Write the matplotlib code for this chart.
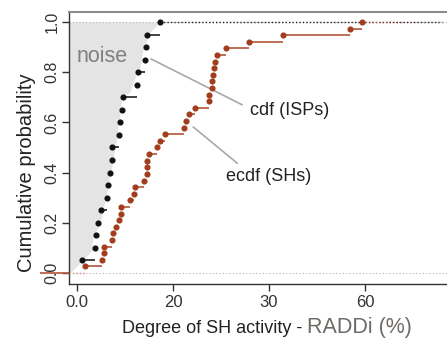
import numpy as np
import matplotlib
matplotlib.use("Agg")
import matplotlib.pyplot as plt

plt.rcParams['font.family'] = ['Liberation Sans', 'DejaVu Sans']

# axis breakpoints: equal spacing between labelled values (0, 20, 30, 60)
brk_val = [-20, 0, 20, 30, 60, 90]
brk_pos = [-1, 0, 1, 2, 3, 4]
tick_vals = [0, 20, 30, 60]
tick_labels = ['0.0', '20', '30', '60']

# ISPs (black) ecdf values, 20 observations
isp_x = [1.0, 3.75, 3.96, 4.4, 5.0, 6.25, 6.46, 6.9, 7.3, 7.3,
         8.75, 8.96, 9.4, 9.6, 12.5, 12.7, 14.2, 14.4, 14.6, 17.3]

# SHs (red) ecdf values, 38 observations
sh_x = [1.67, 5.2, 5.6, 5.6, 7.3, 7.5, 8.1, 8.75, 9.2, 9.2,
        11.0, 11.9, 12.1, 14.0, 14.6, 14.6, 14.6, 15.0, 16.7, 17.3,
        18.3, 21.1, 21.4, 21.7, 22.3, 23.75, 23.75, 24.1, 24.1, 24.2,
        24.3, 24.4, 24.6, 25.5, 27.9, 34.4, 55.3, 59.1]

# noise region boundary (cdf of ISPs)
noise_x = [-1.5, 0.6, 3.1, 3.3, 4.8, 5.4, 6.25, 6.9, 7.5, 8.3,
           8.5, 9.0, 9.4, 11.0, 11.7, 13.1, 13.75, 15.2, 17.3]
noise_p = [0.0, 0.04, 0.09, 0.14, 0.2, 0.25, 0.33, 0.39, 0.45, 0.54,
           0.58, 0.64, 0.70, 0.72, 0.76, 0.82, 0.89, 0.96, 1.0]

RED = '#a13d1d'
RED_LINE = '#b5553a'
XMIN, XMAX = -1.67, 85.6


def fwd(x):
    return np.interp(x, brk_val, brk_pos)


def inv(t):
    return np.interp(t, brk_pos, brk_val)


fig = plt.figure(figsize=(4.47, 3.41), dpi=100)
ax = fig.add_axes([69 / 447, 57 / 341, 378 / 447, 272 / 341])
ax.set_xscale('function', functions=(fwd, inv))
ax.set_xlim(XMIN, XMAX)
ax.set_ylim(-0.0438, 1.0398)

# noise area
ax.fill_betweenx(noise_p, XMIN, noise_x, color='#e4e4e4', lw=0, zorder=1)

ax.axhline(0, ls=(0, (1, 2)), color='#b0b0b0', lw=0.8, zorder=2)
ax.axhline(1, ls=(0, (1, 2)), color='#c0a8a0', lw=0.8, zorder=2)

# black ecdf
ix = np.array(isp_x)
ip = np.arange(1, len(ix) + 1) / len(ix)
ax.hlines(ip[:-1], ix[:-1], ix[1:], color='#222222', lw=1.2, zorder=3)
ax.hlines(1.0, ix[-1], 84, color='#222222', lw=1.0, ls=(0, (1, 1.5)), zorder=3)
ax.plot(ix, ip, 'o', color='#111111', ms=3.4, zorder=4)

# red ecdf
sx = np.array(sh_x)
sp = np.arange(1, len(sx) + 1) / len(sx)
ax.hlines(sp[:-1], sx[:-1], sx[1:], color=RED_LINE, lw=1.2, zorder=3)
ax.hlines(1.0, sx[-1], 72, color=RED_LINE, lw=0.8, ls=(0, (1, 2)), zorder=3)
ax.hlines(0, -7.7, XMIN, color=RED_LINE, lw=1.2, clip_on=False, zorder=3)
ax.hlines(0, XMIN, sx[0], color='#d09080', lw=1.0, ls=(0, (1, 1.5)), zorder=3)
ax.plot(sx, sp, 'o', color=RED, ms=3.4, zorder=4)

# labels in plot
ax.text(0.0, 0.84, 'noise', color='#808080', fontsize=15.5, va='baseline', zorder=5)
ax.annotate('cdf (ISPs)', xy=(15.4, 0.853), xytext=(28.0, 0.63),
            fontsize=13, color='#222222', va='baseline', ha='left',
            arrowprops=dict(arrowstyle='-', color='#a8a8a8', lw=1.2,
                            relpos=(0, 0.6), shrinkA=4, shrinkB=0))
ax.annotate('ecdf (SHs)', xy=(22.1, 0.582), xytext=(25.5, 0.367),
            fontsize=13, color='#222222', va='baseline', ha='left',
            arrowprops=dict(arrowstyle='-', color='#a8a8a8', lw=1.2,
                            relpos=(0.2, 1.0), shrinkA=2, shrinkB=0))

# axes styling
ax.spines['right'].set_visible(False)
ax.spines['top'].set_color('#8c8c8c')
ax.spines['top'].set_linewidth(1.5)
for s in ['left', 'bottom']:
    ax.spines[s].set_color('#333333')
    ax.spines[s].set_linewidth(1.0)

ax.set_xticks(tick_vals)
ax.set_xticklabels(tick_labels)
ax.xaxis.set_minor_locator(plt.NullLocator())
ax.set_yticks([0, 0.2, 0.4, 0.6, 0.8, 1.0])
ax.set_yticklabels(['0.0', '0.2', '0.4', '0.6', '0.8', '1.0'])
ax.tick_params(axis='x', length=5, width=1, color='#333333', labelsize=12,
               labelcolor='#333333', pad=3)
ax.tick_params(axis='y', length=5, width=1, color='#333333', labelsize=11.5,
               labelcolor='#333333', pad=2, labelrotation=90)
for lab in ax.get_yticklabels():
    lab.set_va('center')

fig.text(27 / 447, 1 - 173 / 341, 'Cumulative probability', rotation=90,
         fontsize=14.5, color='#222222', ha='center', va='center')

t1 = fig.text(122 / 447, 8 / 341, 'Degree of SH activity - ', fontsize=13,
              color='#222222', va='baseline', ha='left')
fig.canvas.draw()
bb = t1.get_window_extent()
fig.text(bb.x1 / fig.bbox.width, 8 / 341, 'RADDi (%)', fontsize=15.5,
         color='#6e6a66', va='baseline', ha='left')

fig.savefig('out.png', dpi=100)
